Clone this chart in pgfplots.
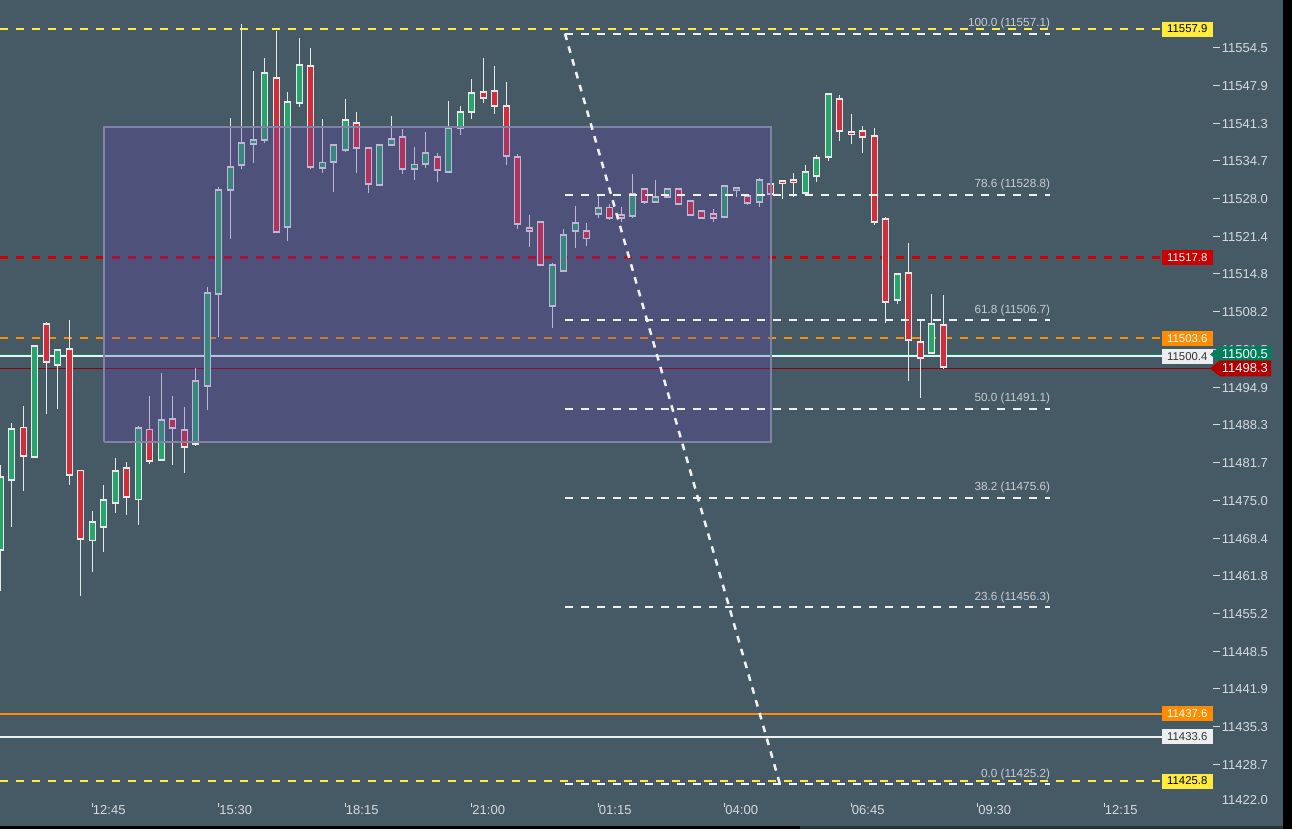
\documentclass[border=0pt]{standalone}
\usepackage{pgfplots}
\pgfplotsset{compat=1.18}
\usepackage{pgfplotstable}
\usepackage{fontspec}
\setmainfont{Liberation Sans}

\definecolor{bg}{RGB}{70,90,101}
\definecolor{yel}{RGB}{255,235,59}
\definecolor{redd}{RGB}{204,0,0}
\definecolor{org}{RGB}{255,140,0}
\definecolor{wht}{RGB}{240,240,240}
\definecolor{grn}{RGB}{0,140,100}
\definecolor{drk}{RGB}{150,0,0}
\definecolor{taggreen}{RGB}{0,128,92}
\definecolor{tagred}{RGB}{178,0,0}
\definecolor{cgreen}{RGB}{38,166,106}
\definecolor{cred}{RGB}{209,45,59}
\definecolor{cwick}{RGB}{232,232,232}
\definecolor{ticklbl}{RGB}{214,218,222}
\definecolor{fibtxt}{RGB}{200,204,208}
\definecolor{rectfill}{RGB}{98,66,172}
\definecolor{rectborder}{RGB}{128,131,165}
\definecolor{boxwhite}{RGB}{236,238,240}
\definecolor{stripdark}{RGB}{40,50,58}

\newcommand{\tk}{\rule[3.3pt]{5pt}{0.75pt}\hspace{1.5pt}}

% candles: index (15-min bars), open, high, low, close
\pgfplotstableread{
k o h l c
-8 11466.4 11481.5 11459.4 11479.2
-7 11478.8 11488.8 11470.5 11487.8
-6 11488.0 11491.7 11476.8 11483.0
-5 11482.9 11502.5 11482.7 11502.3
-4 11506.2 11506.4 11490.2 11499.5
-3 11499.0 11501.6 11491.2 11501.5
-2 11501.8 11506.8 11477.9 11479.7
-1 11480.4 11480.6 11458.4 11468.3
0 11468.1 11473.2 11462.6 11471.4
1 11470.5 11477.8 11466.1 11475.1
2 11474.8 11482.7 11472.9 11480.4
3 11480.9 11482.0 11472.6 11475.8
4 11475.3 11488.3 11470.8 11487.8
5 11487.6 11493.4 11481.5 11482.1
6 11482.3 11497.5 11482.3 11489.3
7 11489.5 11493.6 11481.5 11487.8
8 11487.4 11491.7 11480.0 11484.4
9 11485.0 11498.4 11484.8 11496.0
10 11495.3 11512.6 11491.0 11511.7
11 11511.5 11530.3 11503.9 11529.8
12 11529.8 11542.4 11521.2 11533.8
13 11534.1 11558.8 11533.4 11538.0
14 11537.7 11550.5 11534.4 11538.4
15 11538.4 11552.8 11537.8 11550.3
16 11549.4 11557.7 11522.3 11522.4
17 11523.1 11547.0 11520.9 11545.2
18 11545.0 11556.5 11544.3 11551.7
19 11551.5 11554.7 11533.4 11533.8
20 11533.6 11542.2 11532.7 11534.5
21 11534.5 11537.6 11529.2 11537.5
22 11536.8 11545.7 11536.4 11542.0
23 11541.5 11543.3 11532.6 11537.0
24 11537.1 11537.3 11529.2 11530.8
25 11530.5 11537.8 11530.4 11537.5
26 11537.5 11542.8 11537.4 11538.5
27 11539.1 11540.5 11532.6 11533.4
28 11533.3 11537.3 11531.5 11534.1
29 11534.3 11539.9 11533.6 11536.2
30 11535.5 11536.1 11531.0 11533.3
31 11532.9 11545.2 11532.8 11540.6
32 11540.6 11544.5 11539.4 11543.3
33 11543.4 11549.2 11542.2 11546.6
34 11547.0 11552.8 11544.9 11545.9
35 11547.1 11551.5 11543.1 11544.5
36 11544.5 11548.7 11534.1 11535.7
37 11535.5 11536.1 11522.9 11523.8
38 11523.1 11525.2 11519.7 11522.5
39 11524.1 11524.3 11516.4 11516.6
40 11509.4 11516.8 11505.5 11516.6
41 11515.5 11522.9 11515.4 11521.8
42 11522.5 11526.9 11519.6 11523.8
43 11522.5 11523.9 11519.9 11521.1
44 11525.4 11529.0 11524.8 11526.4
45 11526.6 11527.2 11524.4 11524.7
46 11525.4 11526.6 11524.0 11524.8
47 11525.0 11532.6 11524.9 11529.0
48 11529.8 11530.0 11527.3 11527.5
49 11527.6 11531.4 11527.5 11528.5
50 11528.5 11530.0 11528.3 11529.8
51 11529.9 11530.1 11527.2 11527.3
52 11527.8 11528.0 11525.3 11525.4
53 11526.0 11526.1 11524.6 11524.7
54 11525.5 11526.3 11524.1 11524.8
55 11524.8 11530.5 11524.7 11530.4
56 11529.8 11530.2 11528.5 11530.1
57 11528.7 11528.8 11527.1 11527.5
58 11527.5 11531.9 11526.8 11531.3
59 11530.8 11531.0 11524.8 11529.0
60 11531.3 11531.4 11528.0 11531.0
61 11531.5 11532.7 11528.5 11531.2
62 11529.2 11534.1 11529.0 11532.9
63 11532.1 11535.8 11531.2 11535.3
64 11535.5 11546.8 11534.8 11546.6
65 11545.7 11546.3 11538.2 11540.1
66 11539.9 11543.1 11537.8 11539.6
67 11540.1 11541.0 11536.1 11539.1
68 11539.1 11540.5 11523.6 11524.0
69 11524.7 11524.8 11506.2 11510.1
70 11510.4 11515.0 11509.7 11515.0
71 11515.0 11520.4 11496.0 11503.2
72 11503.0 11506.9 11493.0 11500.2
73 11501.1 11511.3 11501.1 11506.2
74 11506.0 11511.2 11498.2 11498.5
}\candles

\begin{document}
\begin{tikzpicture}
\fill[bg] (0,-19.76pt) rectangle (969pt,602pt);
\useasboundingbox (0,-19.76pt) rectangle (969pt,602pt);
\begin{axis}[
  at={(0,0)}, anchor=south west,
  scale only axis, width=909.75pt, height=602pt,
  xmin=-8.026, xmax=97.452, ymin=11422.0, ymax=11563.0,
  clip mode=individual,
  axis line style={draw=none},
  tick align=outside, major tick length=3pt,
  xtick pos=bottom, ytick pos=right, yticklabel pos=right,
  xtick={0,11,22,33,44,55,66,77,88},
  xticklabels={12:45,15:30,18:15,21:00,01:15,04:00,06:45,09:30,12:15},
  ytick={11422.0,11428.7,11435.3,11441.9,11448.5,11455.2,11461.8,11468.4,11475.0,11481.7,11488.3,11494.9,11501.5,11508.2,11514.8,11521.4,11528.0,11534.7,11541.3,11547.9,11554.5},
  yticklabels={\raisebox{4.5pt}{\phantom{\tk}11422.0},\tk 11428.7,\tk 11435.3,\tk 11441.9,\tk 11448.5,\tk 11455.2,\tk 11461.8,\tk 11468.4,\tk 11475.0,\tk 11481.7,\tk 11488.3,\tk 11494.9,\tk 11501.5,\tk 11508.2,\tk 11514.8,\tk 11521.4,\tk 11528.0,\tk 11534.7,\tk 11541.3,\tk 11547.9,\tk 11554.5},
  tick label style={text=ticklbl, font=\fontsize{9.75}{11}\selectfont},
  xtick style={draw=ticklbl, line width=0.6pt},
  ytick style={draw=none},
  xticklabel style={anchor=north west, inner sep=0pt, xshift=0.3pt, yshift=1.5pt},
  yticklabel style={anchor=west, inner sep=0pt, xshift=-3pt},
]
% horizontal level lines
\addplot[yel, line width=1.5pt, dash pattern=on 6pt off 6pt] coordinates {(-8.026,11557.9) (93.02,11557.9)};
\addplot[redd, line width=2pt, dash pattern=on 6pt off 6pt] coordinates {(-8.026,11517.8) (93.02,11517.8)};
\addplot[org, line width=1.5pt, dash pattern=on 6pt off 6pt] coordinates {(-8.026,11503.6) (93.02,11503.6)};
\addplot[wht, line width=1.5pt] coordinates {(-8.026,11500.4) (93.02,11500.4)};
\addplot[grn, line width=1.1pt] coordinates {(-8.026,11500.75) (97.452,11500.75)};
\addplot[drk, line width=0.75pt] coordinates {(-8.026,11498.3) (97.452,11498.3)};
\addplot[org, line width=1.5pt] coordinates {(-8.026,11437.6) (93.02,11437.6)};
\addplot[wht, line width=1.5pt] coordinates {(-8.026,11433.6) (93.02,11433.6)};
\addplot[yel, line width=1.5pt, dash pattern=on 6pt off 6pt] coordinates {(-8.026,11425.8) (93.02,11425.8)};

% wicks
\addplot[draw=none, forget plot, error bars/.cd, y dir=both, y explicit, error mark=none,
  error bar style={draw=cwick, line width=0.75pt}]
  table[x=k, y expr={(\thisrow{h}+\thisrow{l})/2}, y error expr={(\thisrow{h}-\thisrow{l})/2}] {\candles};
% body outlines
\addplot[draw=none, forget plot, error bars/.cd, y dir=both, y explicit, error mark=none,
  error bar style={draw=cwick, line width=5.25pt}]
  table[x=k, y expr={(\thisrow{o}+\thisrow{c})/2}, y error expr={abs(\thisrow{c}-\thisrow{o})/2+0.17}] {\candles};
% green bodies
\addplot[draw=none, forget plot, restrict expr to domain={\thisrow{c}-\thisrow{o}}{0:1000},
  error bars/.cd, y dir=both, y explicit, error mark=none,
  error bar style={draw=cgreen, line width=3.75pt}]
  table[x=k, y expr={(\thisrow{o}+\thisrow{c})/2}, y error expr={max(abs(\thisrow{c}-\thisrow{o})/2-0.17,0.02)}] {\candles};
% red bodies
\addplot[draw=none, forget plot, restrict expr to domain={\thisrow{c}-\thisrow{o}}{-1000:-0.00001},
  error bars/.cd, y dir=both, y explicit, error mark=none,
  error bar style={draw=cred, line width=3.75pt}]
  table[x=k, y expr={(\thisrow{o}+\thisrow{c})/2}, y error expr={max(abs(\thisrow{c}-\thisrow{o})/2-0.17,0.02)}] {\candles};

% range rectangle
\addplot[draw=rectborder, line width=1.5pt, fill=rectfill, fill opacity=0.3]
  coordinates {(1.02,11485.4) (1.02,11540.7) (59.0,11540.7) (59.0,11485.4) (1.02,11485.4)};

% fibonacci levels
\addplot[wht, line width=1.5pt, dash pattern=on 6pt off 6pt] coordinates {(41.1,11557.1) (83.3,11557.1)};
\addplot[wht, line width=1.5pt, dash pattern=on 6pt off 6pt] coordinates {(41.1,11528.8) (83.3,11528.8)};
\addplot[wht, line width=1.5pt, dash pattern=on 6pt off 6pt] coordinates {(41.1,11506.7) (83.3,11506.7)};
\addplot[wht, line width=1.5pt, dash pattern=on 6pt off 6pt] coordinates {(41.1,11491.1) (83.3,11491.1)};
\addplot[wht, line width=1.5pt, dash pattern=on 6pt off 6pt] coordinates {(41.1,11475.6) (83.3,11475.6)};
\addplot[wht, line width=1.5pt, dash pattern=on 6pt off 6pt] coordinates {(41.1,11456.3) (83.3,11456.3)};
\addplot[wht, line width=1.5pt, dash pattern=on 6pt off 6pt] coordinates {(41.1,11425.2) (83.3,11425.2)};
% trend line
\addplot[wht, line width=1.9pt, dash pattern=on 5pt off 5pt] coordinates {(41.1,11557.1) (59.8,11425.2)};

\begin{scope}[every node/.style={anchor=south east, inner sep=0pt, yshift=3.5pt, text=fibtxt, font=\fontsize{8.8}{10}\selectfont}]
\node at (axis cs:83.3,11557.1) {100.0 (11557.1)};
\node at (axis cs:83.3,11528.8) {78.6 (11528.8)};
\node at (axis cs:83.3,11506.7) {61.8 (11506.7)};
\node at (axis cs:83.3,11491.1) {50.0 (11491.1)};
\node at (axis cs:83.3,11475.6) {38.2 (11475.6)};
\node at (axis cs:83.3,11456.3) {23.6 (11456.3)};
\node at (axis cs:83.3,11425.2) {0.0 (11425.2)};
\end{scope}

\begin{scope}[every node/.style={anchor=east, inner sep=0pt, minimum width=38.25pt, minimum height=11.25pt, font=\fontsize{8.5}{9}\selectfont}]
\node[fill=yel, text=black] at (axis cs:97.452,11557.9) {11557.9};
\node[fill=redd, text=white] at (axis cs:97.452,11517.8) {11517.8};
\node[fill=org, text=white] at (axis cs:97.452,11503.6) {11503.6};
\node[fill=boxwhite, text=black!80] at (axis cs:97.452,11500.4) {11500.4};
\node[fill=org, text=white] at (axis cs:97.452,11437.6) {11437.6};
\node[fill=boxwhite, text=black!80] at (axis cs:97.452,11433.6) {11433.6};
\node[fill=yel, text=black] at (axis cs:97.452,11425.8) {11425.8};
\end{scope}

\coordinate (tg) at (axis cs:97.452,11500.75);
\coordinate (tr) at (axis cs:97.452,11498.3);
\end{axis}
% price tags
\fill[taggreen] (tg) ++(-2.25pt,0) -- ++(7.5pt,6pt) -- ++(38.25pt,0) -- ++(0,-12pt) -- ++(-38.25pt,0) -- cycle;
\node[anchor=west, inner sep=0pt, xshift=6.5pt, text=white, font=\fontsize{9.75}{11}\selectfont] at (tg) {11500.5};
\fill[tagred] (tr) ++(-2.25pt,0) -- ++(7.5pt,6pt) -- ++(38.25pt,0) -- ++(0,-12pt) -- ++(-38.25pt,0) -- cycle;
\node[anchor=west, inner sep=0pt, xshift=6.5pt, text=white, font=\fontsize{9.75}{11}\selectfont] at (tr) {11498.3};
% frame strips
\fill[black] (962.25pt,-19.76pt) rectangle (969pt,602pt);
\fill[black] (0,-19.76pt) rectangle (600pt,-17.5pt);
\fill[stripdark] (600pt,-19.76pt) rectangle (962.25pt,-17.5pt);
\end{tikzpicture}
\end{document}
